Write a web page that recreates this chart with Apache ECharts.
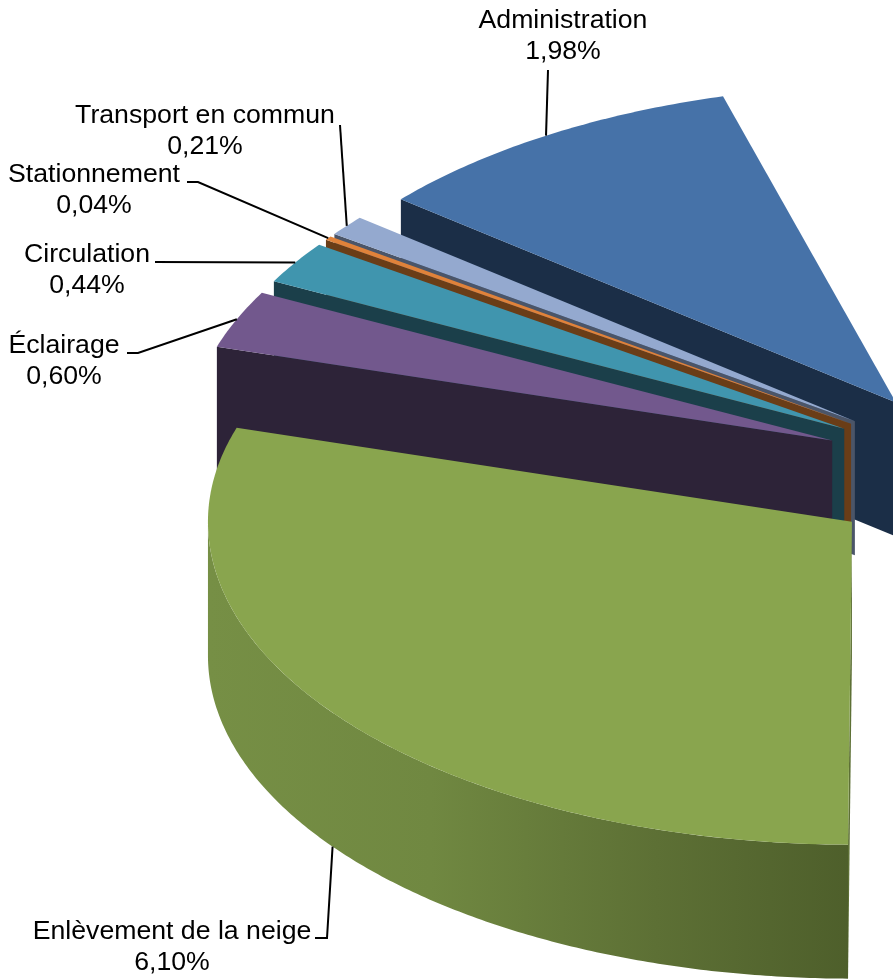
<!DOCTYPE html>
<html>
<head>
<meta charset="utf-8">
<style>html,body{margin:0;padding:0;background:#fff}#chart{width:893px;height:979px}</style>
<script src="https://cdn.jsdelivr.net/npm/echarts@6/dist/echarts.min.js"></script>
</head>
<body>
<div id="chart"></div>
<script>
// Back-to-front drawing order
const categories = ['Administration', 'Transport en commun', 'Stationnement', 'Circulation', 'Éclairage', 'Enlèvement de la neige'];
const values = [1.98, 0.21, 0.04, 0.44, 0.60, 6.10];

// Styles and layout
const topColors  = ['#4672a8', '#94a9cf', '#e0823a', '#4095ae', '#72588d', '#89a54e'];
const sideColors = ['#1b2e47', '#4b5568', '#6a3d17', '#1b3f4a', '#2d2338', '#5d7035'];
const labelAt = [[563, 36], [205, 131], [94, 190], [87, 270], [64, 361], [172, 947]];
const leaderStart = [
  [[548, 70]],
  [[340, 125]],
  [[187, 182], [198, 182]],
  [[155, 262]],
  [[127, 353], [138, 353]],
  [[315, 938], [327, 938]]
];
const CX = 987, CY = 472, RX = 644, RY_FRONT = 323, RY_BACK = 318, DEPTH = 134, EXPLODE = 0.26;
const AXIS_TOTAL = 20.56, FIRST_ANGLE_VALUE = 0.02;

// Cumulate from the front slice (starts at the bottom, runs clockwise)
const spans = [];
let running = FIRST_ANGLE_VALUE;
for (let i = values.length - 1; i >= 0; i--) {
  spans[i] = [1, running, running + values[i], i];
  running += values[i];
}

function renderSlice(params, api) {
  const i = api.value(3), a0 = api.value(1), a1 = api.value(2), mid = (a0 + a1) / 2;
  // Polar point flattened onto the tilted pie plane (near half slightly larger than far half)
  const proj = (r, v) => {
    const p = api.coord([r, v]);
    const dy = p[1] - CY;
    return [p[0], CY + dy * (dy > 0 ? RY_FRONT : RY_BACK) / RX];
  };
  const o = proj(EXPLODE, mid);
  const off = [o[0] - CX, o[1] - CY];
  const pt = (r, v) => { const p = proj(r, v); return [p[0] + off[0], p[1] + off[1]]; };
  const down = (p) => [p[0], p[1] + DEPTH];
  const steps = Math.max(4, Math.ceil((a1 - a0) * 30));
  const rim = [];
  for (let s = 0; s <= steps; s++) rim.push(pt(1, a0 + (a1 - a0) * s / steps));
  const apex = pt(0, mid);
  const children = [];
  // Arc wall: only the part facing the viewer (before the quarter turn)
  const quarter = AXIS_TOTAL / 4;
  if (a0 < quarter) {
    const wEnd = Math.min(a1, quarter), w = [];
    for (let s = 0; s <= steps; s++) w.push(pt(1, a0 + (wEnd - a0) * s / steps));
    children.push({
      type: 'polygon',
      shape: { points: w.concat(w.slice().reverse().map(down)) },
      style: {
        fill: { type: 'linear', x: 0, y: 0, x2: 1, y2: 0, colorStops: [
          { offset: 0, color: '#768f45' }, { offset: 0.35, color: '#708841' },
          { offset: 0.7, color: '#5d7035' }, { offset: 1, color: '#4e5f2b' }
        ] }
      }
    });
  }
  // Cut face on the starting edge
  const s0 = rim[0];
  children.push({
    type: 'polygon',
    shape: { points: [apex, s0, down(s0), down(apex)] },
    style: { fill: sideColors[i] }
  });
  // Top face
  children.push({
    type: 'polygon',
    shape: { points: [apex].concat(rim) },
    style: { fill: topColors[i] }
  });
  // Leader line: ends at the slice's mid angle on the rim (below the wall when on the front)
  let end = pt(1, mid);
  if (mid < quarter) end = down(end);
  children.push({
    type: 'polyline',
    shape: { points: leaderStart[i].concat([end]) },
    style: { fill: null, stroke: '#000', lineWidth: 2 }
  });
  children.push({
    type: 'text',
    style: {
      text: categories[i] + '\n' + values[i].toFixed(2).replace('.', ',') + '%',
      x: labelAt[i][0], y: labelAt[i][1],
      align: 'center', verticalAlign: 'middle',
      font: '26.67px "Liberation Sans", Arial, sans-serif',
      lineHeight: 31, fill: '#000'
    }
  });
  return { type: 'group', children };
}

const chart = echarts.init(document.getElementById('chart'), null, { renderer: 'canvas' });
chart.setOption({
  animation: false,
  backgroundColor: '#fff',
  polar: { center: [CX, CY], radius: [0, RX] },
  angleAxis: { type: 'value', min: 0, max: AXIS_TOTAL, startAngle: 270, clockwise: true, show: false },
  radiusAxis: { type: 'value', min: 0, max: 1, show: false },
  series: [{
    type: 'custom',
    coordinateSystem: 'polar',
    renderItem: renderSlice,
    encode: { radius: 0, angle: 1 },
    data: spans,
    silent: true
  }]
});
</script>
</body>
</html>
